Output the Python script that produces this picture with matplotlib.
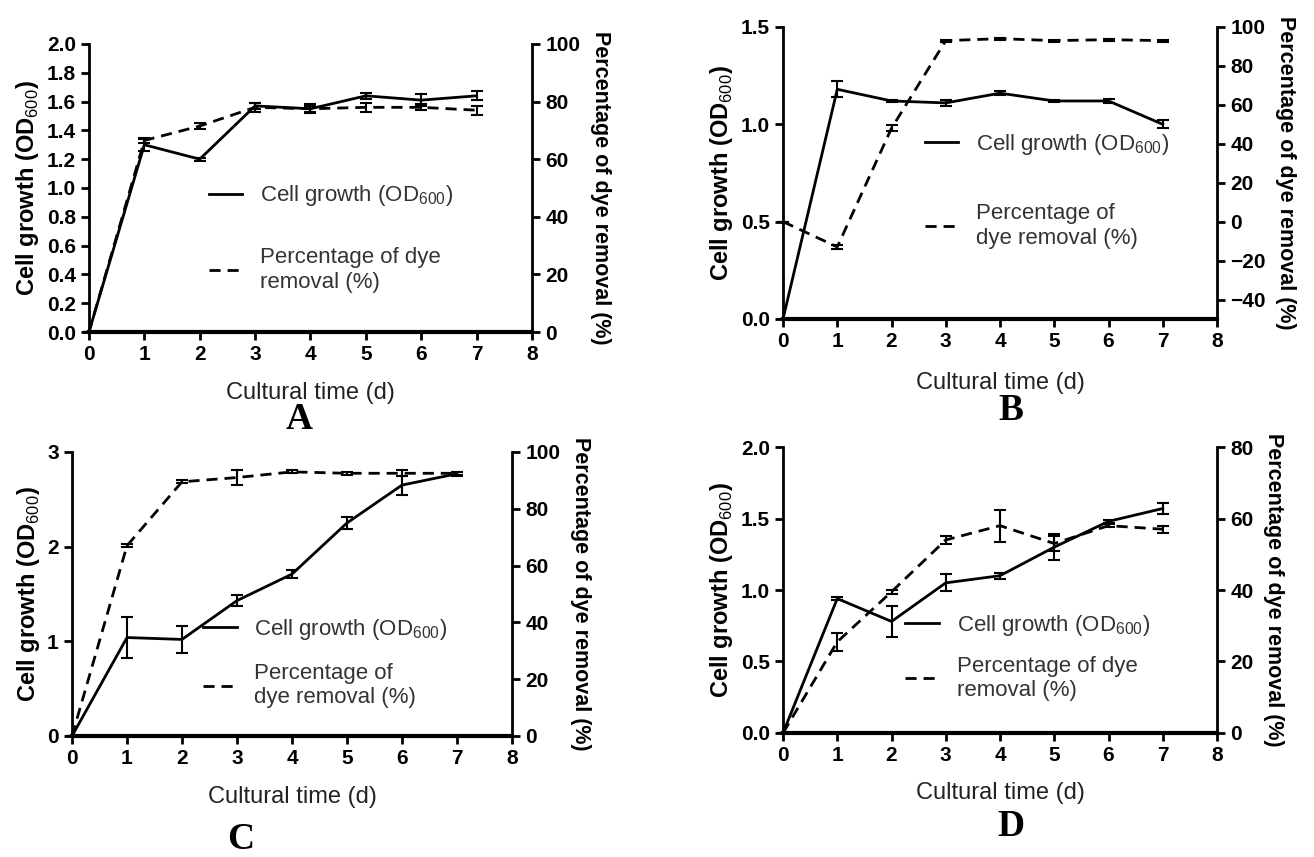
import matplotlib
matplotlib.use("Agg")
import matplotlib.pyplot as plt
from matplotlib.lines import Line2D

plt.rcParams['font.family'] = ['Liberation Sans', 'DejaVu Sans']
plt.rcParams['mathtext.fontset'] = 'custom'
plt.rcParams['mathtext.rm'] = 'Liberation Sans'
plt.rcParams['mathtext.bf'] = 'Liberation Sans:bold'

days = [0, 1, 2, 3, 4, 5, 6, 7]

# Panel A
growth_a = [0, 1.30, 1.20, 1.57, 1.55, 1.64, 1.61, 1.64]
growth_a_err = [0, 0.04, 0.01, 0.02, 0.02, 0.02, 0.04, 0.03]
dye_a = [0, 66.5, 71.5, 78, 77.5, 78, 78, 77]
dye_a_err = [0, 1.0, 1.0, 1.5, 1.5, 1.5, 1.0, 1.5]

# Panel B
growth_b = [0, 1.18, 1.12, 1.11, 1.16, 1.12, 1.12, 1.00]
growth_b_err = [0, 0.04, 0.005, 0.015, 0.01, 0.005, 0.01, 0.02]
dye_b = [0, -13, 48, 93, 94, 93, 93.5, 93]
dye_b_err = [0, 1.0, 1.5, 0.5, 0.5, 0.5, 0.5, 0.5]

# Panel C
growth_c = [0, 1.04, 1.02, 1.43, 1.71, 2.25, 2.65, 2.77]
growth_c_err = [0, 0.22, 0.14, 0.06, 0.04, 0.06, 0.10, 0.02]
dye_c = [0, 67, 89.5, 91, 93, 92.5, 92.5, 92.5]
dye_c_err = [0, 0.5, 0.5, 2.5, 0.5, 0.5, 1.0, 0.5]

# Panel D
growth_d = [0, 0.94, 0.78, 1.05, 1.10, 1.30, 1.48, 1.57]
growth_d_err = [0, 0.01, 0.11, 0.06, 0.02, 0.09, 0.01, 0.04]
dye_d = [0, 25.5, 39.5, 54, 58, 53, 58, 57]
dye_d_err = [0, 2.5, 0.5, 1.0, 4.5, 2.0, 0.5, 1.0]

DASH = (0, (4, 2.5))

panels = [
    # letter, growth, gerr, dye, derr, rect, ylim, yticks, yfmt, dlim, dticks,
    # legend anchor, legend spacing, dye label, letter position, xlabel pad
    ("A", growth_a, growth_a_err, dye_a, dye_a_err, [0.0677, 0.6126, 0.3372, 0.3361],
     (0, 2.0), [0, 0.2, 0.4, 0.6, 0.8, 1.0, 1.2, 1.4, 1.6, 1.8, 2.0], "{:.1f}",
     (0, 100), [0, 20, 40, 60, 80, 100], (0.225, 0.585), 1.75, "Percentage of dye\nremoval (%)",
     (0.228, 0.490), 13),
    ("B", growth_b, growth_b_err, dye_b, dye_b_err, [0.5959, 0.6278, 0.3303, 0.3407],
     (0, 1.5), [0, 0.5, 1.0, 1.5], "{:.1f}",
     (-50, 100), [-40, -20, 0, 20, 40, 60, 80, 100], (0.28, 0.71), 2.1, "Percentage of\ndye removal (%)",
     (0.769, 0.500), 15),
    ("C", growth_c, growth_c_err, dye_c, dye_c_err, [0.0548, 0.1412, 0.3348, 0.3314],
     (0, 3), [0, 1, 2, 3], "{:.0f}",
     (0, 100), [0, 20, 40, 60, 80, 100], (0.253, 0.49), 0.95, "Percentage of\ndye removal (%)",
     (0.183, 0.0), 13),
    ("D", growth_d, growth_d_err, dye_d, dye_d_err, [0.5959, 0.1447, 0.3303, 0.3337],
     (0, 2.0), [0, 0.5, 1.0, 1.5, 2.0], "{:.1f}",
     (0, 80), [0, 20, 40, 60, 80], (0.236, 0.49), 0.8, "Percentage of dye\nremoval (%)",
     (0.769, 0.015), 12),
]

fig = plt.figure(figsize=(13.14, 8.57), dpi=100)

for (letter, g, ge, d, de, rect, ylim, yticks, yfmt, dlim, dticks,
     leg_anchor, leg_space, dye_label, letter_pos, xpad) in panels:
    ax = fig.add_axes(rect)
    ax2 = ax.twinx()

    ax.errorbar(days, g, yerr=ge, color='black', lw=2.0, capsize=4, capthick=1.5,
                elinewidth=1.5, clip_on=False, zorder=3)
    ax2.errorbar(days, d, yerr=de, color='black', lw=2.0, ls=DASH, capsize=4,
                 capthick=1.5, elinewidth=1.5, clip_on=False, zorder=3)

    ax.set_xlim(0, 8)
    ax.set_xticks(range(9))
    ax.set_ylim(*ylim)
    ax.set_yticks(yticks)
    ax.set_yticklabels([yfmt.format(v) for v in yticks])
    ax2.set_ylim(*dlim)
    ax2.set_yticks(dticks)

    for a in (ax, ax2):
        a.spines['top'].set_visible(False)
        for s in ('left', 'right', 'bottom'):
            a.spines[s].set_linewidth(2.0)
        a.tick_params(direction='out', width=2.0, length=6, labelsize=15)
        for lab in a.get_xticklabels() + a.get_yticklabels():
            lab.set_fontweight('bold')
    ax.spines['bottom'].set_linewidth(3.0)
    ax2.spines['left'].set_visible(False)
    ax.spines['right'].set_visible(False)

    ax.set_xlabel("Cultural time (d)", fontsize=17, labelpad=xpad, color='#222222')
    ax.set_ylabel(r"Cell growth (OD$_{600}$)", fontsize=17, fontweight='bold', labelpad=4)
    ax2.set_ylabel("Percentage of dye removal (%)", fontsize=15.5, fontweight='bold',
                   rotation=-90, labelpad=22)

    handles = [Line2D([], [], color='black', lw=2.0),
               Line2D([], [], color='black', lw=2.0, ls=DASH)]
    leg = ax.legend(handles, [r"Cell growth (OD$_{600}$)", dye_label], loc='upper left',
                    bbox_to_anchor=leg_anchor, frameon=False, fontsize=16, handlelength=1.5,
                    handletextpad=0.8, labelspacing=leg_space)
    for t in leg.get_texts():
        t.set_color('#333333')

    fig.text(letter_pos[0], letter_pos[1], letter, fontsize=27, fontweight='bold',
             family=['Liberation Serif', 'DejaVu Serif'], ha='center', va='bottom')

fig.savefig("out.png", dpi=100)
